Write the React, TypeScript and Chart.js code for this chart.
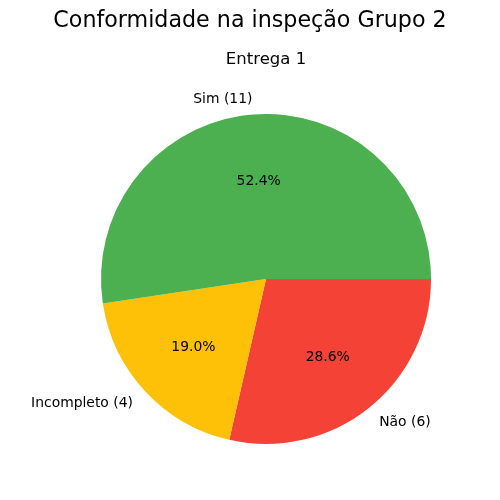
import { useEffect, useRef } from 'react';
import { Chart, registerables } from 'chart.js';

Chart.register(...registerables);

const categories = ['Sim', 'Incompleto', 'Não'];
const counts = [11, 4, 6];
const colors = ['#4caf50', '#ffc107', '#f44336'];
const titleText = 'Conformidade na inspeção Grupo 2';
const subtitleText = 'Entrega 1';

const FONT = '"DejaVu Sans", sans-serif';

// matplotlib draws counter-clockwise from 3 o'clock; chart.js goes clockwise,
// so feed the slices reversed and start at 90 degrees
const order = [2, 1, 0];

const pieText = {
  id: 'pieText',
  afterDraw(chart: Chart) {
    const ctx = chart.ctx;
    const meta = chart.getDatasetMeta(0);
    const total = counts.reduce((a, b) => a + b, 0);
    ctx.save();
    ctx.fillStyle = '#000';

    ctx.textAlign = 'center';
    ctx.textBaseline = 'middle';
    ctx.font = `22.2px ${FONT}`;
    ctx.fillText(titleText, 250, 21);
    ctx.font = `16.5px ${FONT}`;
    ctx.fillText(subtitleText, 266, 60);

    ctx.font = `13.9px ${FONT}`;
    meta.data.forEach((el: any, i: number) => {
      const idx = order[i];
      const mid = (el.startAngle + el.endAngle) / 2;
      const r = el.outerRadius;
      const cx = el.x;
      const cy = el.y;
      const pct = ((counts[idx] / total) * 100).toFixed(1) + '%';
      ctx.textAlign = 'center';
      ctx.fillText(pct, cx + Math.cos(mid) * r * 0.6, cy + Math.sin(mid) * r * 0.6 + 1);
      const lx = cx + Math.cos(mid) * r * 1.1;
      const ly = cy + Math.sin(mid) * r * 1.1 + 1;
      ctx.textAlign = lx < cx ? 'right' : 'left';
      ctx.fillText(`${categories[idx]} (${counts[idx]})`, lx, ly);
    });
    ctx.restore();
  },
};

export default function App() {
  const canvasRef = useRef<HTMLCanvasElement>(null);

  useEffect(() => {
    const el = canvasRef.current;
    if (!el) return;
    const chart = new Chart(el, {
      type: 'pie',
      data: {
        labels: order.map((i) => categories[i]),
        datasets: [
          {
            data: order.map((i) => counts[i]),
            backgroundColor: order.map((i) => colors[i]),
            borderWidth: 0,
          },
        ],
      },
      options: {
        responsive: false,
        animation: false,
        devicePixelRatio: 1,
        rotation: 90,
        layout: { padding: { left: 101, top: 114, right: 69, bottom: 56 } },
        plugins: {
          legend: { display: false },
          title: { display: false },
          tooltip: { enabled: false },
        },
      },
      plugins: [pieText],
    });
    return () => chart.destroy();
  }, []);

  return (
    <div style={{ position: 'fixed', left: 0, top: 0, width: 500, height: 500, background: '#fff' }}>
      <canvas ref={canvasRef} width={500} height={500} />
    </div>
  );
}
